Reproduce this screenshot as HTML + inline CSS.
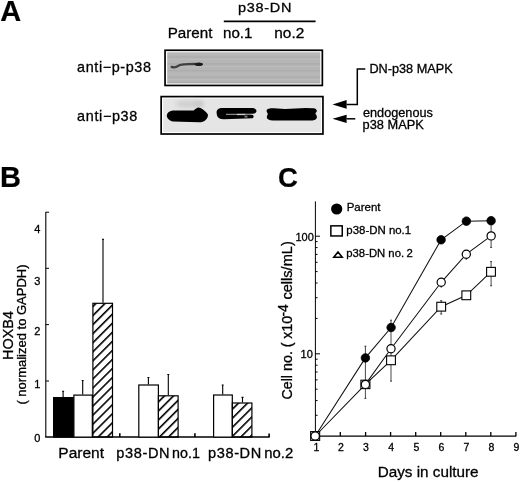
<!DOCTYPE html>
<html><head><meta charset="utf-8"><style>
html,body{margin:0;padding:0;background:#fff;}
svg{display:block;will-change:transform;}
text{font-family:"Liberation Sans",sans-serif;fill:#000;stroke:#000;stroke-width:0.3px;}
.b{stroke-width:0.2px;}
.b{font-weight:bold;}
</style></head><body>
<svg width="520" height="482" viewBox="0 0 520 482">
<defs>
<pattern id="hatch" patternUnits="userSpaceOnUse" width="6.4" height="6.4" patternTransform="rotate(-45)">
<rect x="0" y="0" width="6.4" height="1.6" fill="#000"/>
</pattern>
<pattern id="hatch2" patternUnits="userSpaceOnUse" width="6.4" height="6.4" patternTransform="translate(0,-2) rotate(-45)">
<rect x="0" y="0" width="6.4" height="1.6" fill="#000"/>
</pattern>
<pattern id="hatch3" patternUnits="userSpaceOnUse" width="6.4" height="6.4" patternTransform="translate(0,-2.2) rotate(-45)">
<rect x="0" y="0" width="6.4" height="1.6" fill="#000"/>
</pattern>
<filter id="blur1" x="-50%" y="-50%" width="200%" height="200%"><feGaussianBlur stdDeviation="2"/></filter>
<filter id="blur07" x="-20%" y="-80%" width="140%" height="260%"><feGaussianBlur stdDeviation="0.7"/></filter>
<filter id="blur05" x="-20%" y="-50%" width="140%" height="200%"><feGaussianBlur stdDeviation="0.5"/></filter>
</defs>

<!-- ===== Panel A ===== -->
<text class="b" x="0.2" y="21.3" font-size="29">A</text>
<text transform="translate(238.0,11.8) scale(1.08,1)" font-size="13.4" letter-spacing="0.65">p38-DN</text>
<line x1="223.8" y1="21.35" x2="315.6" y2="21.35" stroke="#000" stroke-width="1.6"/>
<text x="167.7" y="38" font-size="15.2">Parent</text>
<text x="223" y="37.7" font-size="15.1">no.1</text>
<text transform="translate(274.2,37.9) scale(1.03,1)" font-size="15">no.2</text>

<text x="77.1" y="71.6" font-size="14.4" letter-spacing="0.6">anti−p-p38</text>
<text x="77.1" y="120.5" font-size="14.4" letter-spacing="0.65">anti−p38</text>

<!-- blot 1 -->
<rect x="165.05" y="50.25" width="157.3" height="35.2" fill="#fff" stroke="#000" stroke-width="1.7"/>
<rect x="167.2" y="52.3" width="153" height="31.2" fill="#b5b5b5"/>
<g stroke-width="0.8" opacity="0.55">
<path d="M167.2,54.2 H320.2 M167.2,59.2 H320.2 M167.2,66.6 H320.2 M167.2,74.2 H320.2 M167.2,79.6 H320.2" stroke="#c4c4c4"/>
<path d="M167.2,57 H320.2 M167.2,63.9 H320.2 M167.2,70.8 H320.2 M167.2,77.2 H320.2 M167.2,82.3 H320.2" stroke="#9c9c9c"/>
</g>
<g filter="url(#blur07)">
<path d="M171.6,66.9 C174,67.8 176.5,67.3 178.5,65.7 C180.5,64.5 184,64.3 188,64.2 L195,64" fill="none" stroke="#404040" stroke-width="2.3" stroke-linecap="round"/>
<ellipse cx="198.8" cy="64.2" rx="4.2" ry="1.8" fill="#1c1c1c"/>
</g>

<!-- blot 2 -->
<rect x="161.15" y="96.6" width="161.8" height="37.4" fill="#fff" stroke="#000" stroke-width="1.7"/>
<rect x="163.2" y="98.6" width="157.7" height="33.3" fill="#e5e5e5"/>
<ellipse cx="188" cy="104" rx="13" ry="4" fill="#d0d0d0" filter="url(#blur1)"/>
<ellipse cx="199" cy="104" rx="5" ry="3.5" fill="#c8c8c8" filter="url(#blur1)"/>
<g filter="url(#blur05)">
<path d="M166.8,115.4 C167,113 169,111.5 172.6,110.6 L193.7,110.4 C195.5,109 197,107.7 198.6,107.6 C201,107.8 203,109.5 204.5,110.8 C206.5,112.5 208,114 208,115.5 C207.8,117.5 206.5,119.5 204.5,121 C203,122 201,122.3 199,122.3 L173,121.5 C170,121 167,118.5 166.8,115.4 Z" fill="#000"/>
<path d="M216.6,113 C216.4,109.6 218.5,108 222.5,108 L253,108.1 C255.5,108.4 256.6,110 256.5,111.3 C256.2,112.6 255,113.5 253,113.8 L228,114 L252,114.8 C254,115 254.2,118 252.5,118.3 L224,119.2 C219,119.5 216.8,117 216.6,113 Z" fill="#000"/>
<path d="M226,114.4 L251,114.5" stroke="#8a8a8a" stroke-width="1.1"/>
<path d="M237,114.5 L245,114.5" stroke="#cfcfcf" stroke-width="1.3"/>
<path d="M244.5,116.6 L247.5,116.6" stroke="#777" stroke-width="2"/>
<path d="M266.6,110.7 C266.8,108.8 269.5,108.3 274,108.3 L285,109 L305.8,108 L312.5,108.2 C316,108.3 317,109.6 316.8,111.3 C316.6,112.3 315.4,113 315.4,113.6 C315.4,114.3 316.9,115.3 316.9,117 C316.8,119.4 315,120.4 311,120.5 L273,120.4 C269,120.3 267,119.4 266.8,117.5 C266.7,116 267.8,114.5 267.8,113.7 C267.8,113 266.5,112 266.6,110.7 Z" fill="#000"/>
</g>

<!-- arrows -->
<path d="M346.6,104.4 L357.3,104.4 L357.3,69.1 L365.3,69.1" fill="none" stroke="#000" stroke-width="1.5"/>
<path d="M332.5,104.4 L346.6,100.1 L346.6,108.7 Z" fill="#000"/>
<path d="M346.6,118.8 L355.3,118.8" fill="none" stroke="#000" stroke-width="1.5"/>
<path d="M332.5,118.8 L346.6,114.7 L346.6,123 Z" fill="#000"/>
<text x="369.4" y="73" font-size="12.7">DN-p38 MAPK</text>
<text x="363" y="116.6" font-size="12.7">endogenous</text>
<text x="362.6" y="128.9" font-size="12.8">p38 MAPK</text>

<!-- ===== Panel B ===== -->
<text class="b" x="0" y="186.6" font-size="29">B</text>
<g stroke="#000" fill="none">
<line x1="45.8" y1="212" x2="45.8" y2="437" stroke-width="1.1"/>
<path d="M45.8,212.2 H49 M45.8,268.3 H49 M45.8,324.6 H49 M45.8,381 H49" stroke-width="1"/>
<line x1="45.2" y1="437.1" x2="269.7" y2="437.1" stroke-width="1.5"/>
<path d="M119.8,437 V433.2 M194.9,437 V433.2 M269.1,437 V433.4" stroke-width="1.6"/>
</g>
<g font-size="11" text-anchor="end">
<text x="40.3" y="232.9">4</text>
<text x="40.3" y="285.3">3</text>
<text x="40.3" y="335.3">2</text>
<text x="40.3" y="388.2">1</text>
<text x="40.3" y="442">0</text>
</g>
<!-- error bars -->
<g stroke="#000" stroke-width="1.1">
<path d="M63.1,397 V391 M62.1,391.2 H64.1"/>
<path d="M82.7,394.5 V380.3 M81.7,380.5 H83.7"/>
<path d="M103,302.7 V239 M102,239.3 H104"/>
<path d="M148.4,384.4 V377.3 M147.4,377.5 H149.4"/>
<path d="M168.3,395.2 V374.3 M167.3,374.5 H169.3"/>
<path d="M222.7,394.4 V384.8 M221.7,385 H223.7"/>
<path d="M242.5,402.4 V397.2 M241.5,397.4 H243.5"/>
</g>
<!-- bars -->
<g stroke="#000" stroke-width="1.2">
<rect x="53.6" y="397.6" width="19.7" height="39.5" fill="#000"/>
<rect x="73.9" y="395.1" width="18.4" height="42" fill="#fff"/>
<rect x="92.9" y="303.3" width="19.6" height="133.8" fill="url(#hatch)"/>
<rect x="138.8" y="385" width="19.6" height="52.1" fill="#fff"/>
<rect x="158.4" y="395.8" width="19.7" height="41.3" fill="url(#hatch2)"/>
<rect x="213.6" y="395" width="18.7" height="42.1" fill="#fff"/>
<rect x="232.3" y="403" width="19.6" height="34.1" fill="url(#hatch3)"/>
</g>
<text x="58.3" y="457.8" font-size="15.5">Parent</text>
<text transform="translate(116.3,458.4) scale(1.04,1)" font-size="14" letter-spacing="0.6">p38-DN</text>
<text x="172.1" y="458.4" font-size="14.3">no.1</text>
<text transform="translate(208,458.4) scale(1.04,1)" font-size="14" letter-spacing="0.6">p38-DN</text>
<text x="264.3" y="457.9" font-size="14.9">no.2</text>
<g transform="translate(12.6,335.5) rotate(-90)" text-anchor="middle">
<text x="0" y="0" font-size="14.4">HOXB4</text>
<text x="1" y="13.6" font-size="13">( normalized to GAPDH)</text>
</g>

<!-- ===== Panel C ===== -->
<text class="b" x="277.9" y="187.2" font-size="27.5">C</text>
<g stroke="#000" fill="none" stroke-width="1">
<line x1="315.4" y1="201.4" x2="315.4" y2="436.5"/>
<line x1="315" y1="436.1" x2="516.3" y2="436.1" stroke-width="1.2"/>
<path d="M340.3,436 V432 M365.6,436 V432 M390.6,436 V432 M415.7,436 V432 M440.7,436 V432 M465.8,436 V432 M490.8,436 V432 M515.9,436 V432" stroke-width="1.3"/>
<path d="M315.4,236.2 H320 M315.4,353.8 H320"/>
<path d="M315.4,241.6 H317.6 M315.4,247.6 H317.6 M315.4,254.4 H317.6 M315.4,262.3 H317.6 M315.4,271.6 H317.6 M315.4,283 H317.6 M315.4,297.7 H317.6 M315.4,318.4 H317.6"/>
<path d="M315.4,359.2 H317.6 M315.4,365.2 H317.6 M315.4,372 H317.6 M315.4,379.9 H317.6 M315.4,389.2 H317.6 M315.4,400.6 H317.6 M315.4,415.3 H317.6"/>
</g>
<g font-size="11" text-anchor="end">
<text x="313.8" y="240.6">100</text>
<text x="312.8" y="357.8">10</text>
</g>
<g font-size="10.5" text-anchor="middle">
<text x="316.3" y="451.3">1</text>
<text x="340.8" y="451.3">2</text>
<text x="366" y="451.3">3</text>
<text x="391.2" y="451.3">4</text>
<text x="416.3" y="451.3">5</text>
<text x="441.3" y="451.3">6</text>
<text x="466.4" y="451.3">7</text>
<text x="491.4" y="451.3">8</text>
<text x="516.4" y="451.3">9</text>
</g>
<text x="377.7" y="476.9" font-size="15.25">Days in culture</text>
<g transform="translate(291.6,0) rotate(-90)" font-size="14.3">
<text x="-399.6" y="0">Cell no. (</text>
<text x="-338.8" y="0">x10</text>
<text x="-316.6" y="-3.6" font-size="14">-4</text>
<text x="-241.2" y="0" text-anchor="end" font-size="14.6">cells/mL)</text>
</g>

<!-- legend -->
<circle cx="336.7" cy="209" r="5.6" fill="#000"/>
<text x="346.7" y="211.1" font-size="11.5">Parent</text>
<rect x="330.85" y="225.85" width="11.4" height="10.1" fill="#fff" stroke="#000" stroke-width="1.5"/>
<text x="346.3" y="234.4" font-size="11.45">p38-DN no.1</text>
<path d="M338,252 L342.2,257.2 L333.8,257.2 Z" fill="none" stroke="#000" stroke-width="1.6" stroke-linejoin="miter"/>
<text x="346.3" y="257" font-size="11.3">p38-DN no.<tspan dx="2.4">2</tspan></text>

<!-- data lines -->
<g fill="none" stroke="#111" stroke-width="1.05">
<polyline points="315.2,436 365.4,357.9 391.1,327.5 441.1,239.8 466.4,221.15 491.1,220.7"/>
<polyline points="315.2,436 365.4,384.4 391,348.8 441.2,282.3 466.3,254.2 491.15,235.9"/>
<polyline points="365.4,384.4 391,360.3 441.2,306.7 466.3,295.3 491,271.8"/>
</g>
<!-- error bars -->
<g stroke="#333" stroke-width="0.9">
<path d="M365.4,346 V398.6 M364.4,346.2 H366.4 M364.4,398.4 H366.4"/>
<path d="M391,320 V381.3 M390,320.2 H392 M390,381.1 H392"/>
<path d="M441.2,300.5 V314.2 M440.2,300.7 H442.2 M440.2,314 H442.2 M441.2,282 V287.8"/>
<path d="M466.2,254 V260"/>
<path d="M491.1,220.7 V247.6 M490.1,247.4 H492.1 M491.1,261.4 V286 M490.1,261.6 H492.1 M490.1,285.8 H492.1"/>
</g>
<!-- markers -->
<g stroke="#000">
<rect x="310.65" y="431.6" width="9" height="8.8" fill="#fff" stroke-width="1.1"/>
<circle cx="315.2" cy="436" r="4.2" fill="#fff" stroke-width="1.2"/>
<rect x="360.9" y="380.2" width="9" height="8.4" fill="#fff" stroke-width="1.1"/>
<circle cx="365.4" cy="384.4" r="4.1" fill="#fff" stroke-width="1.2"/>
<rect x="386.60" y="355.90" width="8.8" height="8.8" fill="#fff" stroke-width="1.1"/>
<rect x="436.80" y="302.30" width="8.8" height="8.8" fill="#fff" stroke-width="1.1"/>
<rect x="461.90" y="290.90" width="8.8" height="8.8" fill="#fff" stroke-width="1.1"/>
<rect x="486.60" y="267.40" width="8.8" height="8.8" fill="#fff" stroke-width="1.1"/>
<circle cx="391.00" cy="348.80" r="4.1" fill="#fff" stroke-width="1.2"/>
<circle cx="441.20" cy="282.30" r="4.1" fill="#fff" stroke-width="1.2"/>
<circle cx="466.30" cy="254.20" r="4.1" fill="#fff" stroke-width="1.2"/>
<circle cx="491.15" cy="235.90" r="4.1" fill="#fff" stroke-width="1.2"/>
<circle cx="365.40" cy="357.90" r="4.25" fill="#000" stroke-width="0.8"/>
<circle cx="391.10" cy="327.50" r="4.25" fill="#000" stroke-width="0.8"/>
<circle cx="441.10" cy="239.80" r="4.25" fill="#000" stroke-width="0.8"/>
<circle cx="466.40" cy="221.15" r="4.25" fill="#000" stroke-width="0.8"/>
<circle cx="491.10" cy="220.70" r="4.25" fill="#000" stroke-width="0.8"/>
</g>
</svg>
</body></html>
